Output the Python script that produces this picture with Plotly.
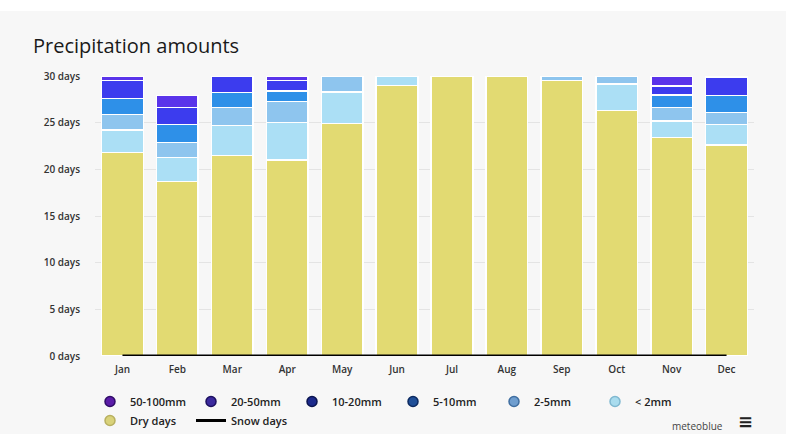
import plotly.graph_objects as go

months = ["Jan", "Feb", "Mar", "Apr", "May", "Jun", "Jul", "Aug", "Sep", "Oct", "Nov", "Dec"]
dry_days = [21.8, 18.7, 21.5, 21.0, 24.9, 29.0, 30.0, 30.0, 29.5, 26.3, 23.4, 22.6]
lt_2mm = [2.4, 2.55, 3.2, 4.0, 3.4, 1.0, 0, 0, 0, 2.85, 1.8, 2.2]
mm_2_5 = [1.7, 1.65, 1.9, 2.25, 1.7, 0, 0, 0, 0.5, 0.85, 1.4, 1.3]
mm_5_10 = [1.7, 1.9, 1.65, 1.15, 0, 0, 0, 0, 0, 0, 1.35, 1.8]
mm_10_20 = [1.9, 1.8, 1.75, 1.1, 0, 0, 0, 0, 0, 0, 1.0, 2.0]
mm_20_50 = [0.5, 1.3, 0, 0.5, 0, 0, 0, 0, 0, 0, 1.05, 0]
mm_50_100 = [0, 0, 0, 0, 0, 0, 0, 0, 0, 0, 0, 0]
snow_days = [0, 0, 0, 0, 0, 0, 0, 0, 0, 0, 0, 0]
y_ticks = [0, 5, 10, 15, 20, 25, 30]
y_tick_labels = [f"{v} days" for v in y_ticks]

FONT = "Open Sans"
W, H = 786, 434
L, R, T, B = 95, 32, 76, 78
PW, PH = W - L - R, H - T - B

# (name, values, bar colour, bar outline, legend colour, legend outline, legend rank)
series = [
    ("Dry days", dry_days, "#e2da72", "white", "#d9d27a", "#b8b060", 7),
    ("< 2mm", lt_2mm, "#abdff5", "white", "#a9dcee", "#7fb8d0", 6),
    ("2-5mm", mm_2_5, "#8ec5ee", "white", "#6f9ecf", "#3f6ea0", 5),
    ("5-10mm", mm_5_10, "#2e90e8", "white", "#1f4f98", "#0c2a60", 4),
    ("10-20mm", mm_10_20, "#3c3cee", "white", "#1c2a8c", "#0a1450", 3),
    ("20-50mm", mm_20_50, "#5a34ea", "white", "#3b2a9e", "#1c1060", 2),
    ("50-100mm", mm_50_100, "#7a22d8", "white", "#5b1ca8", "#300c68", 1),
]

fig = go.Figure()
for name, vals, col, bline, lcol, lline, rank in series:
    fig.add_trace(go.Bar(
        x=months, y=vals, name=name, showlegend=False,
        marker=dict(color=col, line=dict(color=bline, width=1.5)),
        hoverinfo="skip",
    ))
    fig.add_trace(go.Scatter(
        x=[None], y=[None], mode="markers", name=name, legendrank=rank,
        marker=dict(symbol="circle", size=10, color=lcol, line=dict(color=lline, width=1.5)),
    ))

fig.add_trace(go.Scatter(
    x=months, y=snow_days, mode="lines", name="Snow days", legendrank=8,
    line=dict(color="#000000", width=3), cliponaxis=False,
))

fig.update_layout(
    width=W, height=H,
    margin=dict(l=L, r=R, t=T, b=B, pad=0),
    barmode="stack", bargap=0.24,
    paper_bgcolor="#f7f7f7", plot_bgcolor="#f7f7f7",
    font=dict(family=FONT, size=10, color="#333"),
    title=dict(text="Precipitation amounts", x=33 / W, xref="container", xanchor="left",
               y=1 - 46 / H, yref="container", yanchor="middle",
               font=dict(family=FONT, size=20, color="#1a1a1a")),
    xaxis=dict(showgrid=False, zeroline=False, showline=False, ticks="",
               tickfont=dict(family=FONT, size=10, color="#333", weight=600),
               ticklabelstandoff=6, range=[-0.5, 11.5]),
    yaxis=dict(range=[0, 30], tickvals=y_ticks, ticktext=y_tick_labels, showgrid=True,
               gridcolor="#e4e4e4", gridwidth=1, zeroline=False, showline=False,
               ticks="", tickfont=dict(family=FONT, size=10, color="#333", weight=600),
               ticklabelstandoff=14),
    legend=dict(orientation="h", xref="container", x=90 / W, yref="container",
                y=1 - 387 / H, yanchor="top", xanchor="left", traceorder="normal",
                entrywidth=56, entrywidthmode="pixels", itemwidth=30,
                font=dict(family=FONT, size=11, color="#222", weight=600),
                bgcolor="rgba(0,0,0,0)", tracegroupgap=0),
    showlegend=True,
)

fig.add_shape(type="rect", xref="paper", yref="paper",
              x0=-L / PW, x1=1 + R / PW, y0=1 + (T - 11) / PH, y1=1 + T / PH,
              fillcolor="white", line=dict(width=0), layer="below")

fig.add_annotation(text="meteoblue", xref="paper", yref="paper",
                   x=(697 - L) / PW, y=-(426 - (H - B)) / PH, showarrow=False,
                   font=dict(family=FONT, size=10, color="#444"), xanchor="center", yanchor="middle")
fig.add_annotation(text="<b>≡</b>", xref="paper", yref="paper",
                   x=(745 - L) / PW, y=-(421 - (H - B)) / PH, showarrow=False,
                   font=dict(family="DejaVu Sans", size=18, color="#222"),
                   xanchor="center", yanchor="middle")

fig.write_html("out.html", config={"displayModeBar": False},
               post_script="document.body.style.margin='0';")
